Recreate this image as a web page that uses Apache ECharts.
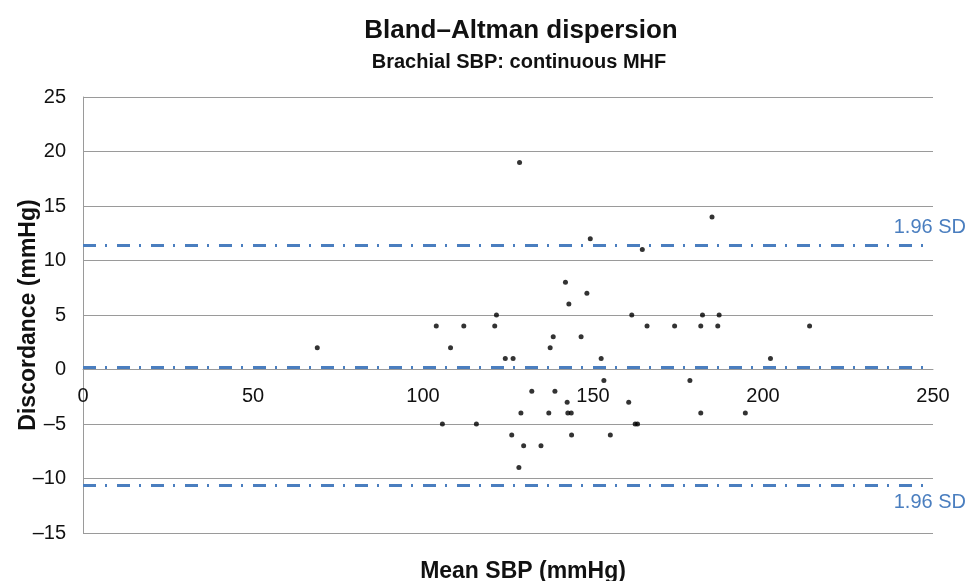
<!DOCTYPE html>
<html>
<head>
<meta charset="utf-8">
<script src="https://cdn.jsdelivr.net/npm/echarts@6/dist/echarts.min.js"></script>
<style>
  html, body { margin: 0; padding: 0; background: #fff; }
  #chart { width: 968px; height: 581px; }
</style>
</head>
<body>
<div id="chart"></div>
<script>
// readings
const meanSbp = [128.4, 185.0, 149.2, 164.5, 141.9, 148.2, 142.9, 121.6, 161.4, 182.2, 187.1,
  68.9, 103.9, 108.1, 112.0, 121.1, 124.2, 126.5, 105.7, 115.7, 126.1, 128.2, 128.8,
  165.9, 174.0, 181.7, 186.7, 213.7, 138.3, 146.5, 137.4, 152.4, 202.2, 153.2, 178.5,
  132.0, 138.8, 142.4, 160.5, 137.0, 142.6, 143.6, 181.7, 194.8, 162.4, 163.1, 143.7,
  155.1, 129.6, 134.7]
const discordance = [19, 14, 12, 11, 8, 7, 6, 5, 5, 5, 5,
  2, 4, 2, 4, 4, 1, 1, -5, -5, -6, -9, -4,
  4, 4, 4, 4, 4, 3, 3, 2, 1, 1, -1, -1,
  -2, -2, -3, -3, -4, -4, -4, -4, -4, -5, -5, -6,
  -6, -7, -7]

const meanDiff = 0.2
const upperLoa = 11.4
const lowerLoa = -10.6
const loaLabel = '1.96 SD'

const FONT = '"Liberation Sans", Arial, sans-serif'
const LOA_BLUE = '#4a7ebf'
const GRID_GREY = '#9a9a9a'

const chart = echarts.init(document.getElementById('chart'))

const dashLine = {
  color: LOA_BLUE,
  width: 3,
  type: [13, 9, 2, 10],
}

chart.setOption({
  animation: false,
  title: [
    {
      text: 'Bland–Altman dispersion',
      left: 516, top: 13, textAlign: 'center',
      textStyle: { fontFamily: FONT, fontSize: 26, fontWeight: 'bold', color: '#111' },
    },
    {
      text: 'Brachial SBP: continuous MHF',
      left: 514, top: 47, textAlign: 'center',
      textStyle: { fontFamily: FONT, fontSize: 20, fontWeight: 'bold', color: '#111' },
    },
    {
      text: 'Mean SBP (mmHg)',
      left: 518, top: 555, textAlign: 'center',
      textStyle: { fontFamily: FONT, fontSize: 23, fontWeight: 'bold', color: '#111' },
    },
  ],
  grid: { left: 83, right: 35, top: 97, bottom: 48, containLabel: false, outerBoundsMode: 'none' },
  xAxis: {
    type: 'value',
    min: 0, max: 250, interval: 50,
    // sit the axis on the zero line, as in the reference
    offset: -164,
    axisLine: { show: true, onZero: false, lineStyle: { color: GRID_GREY, width: 1 } },
    axisTick: { show: false },
    splitLine: { show: false },
    axisLabel: { margin: 17, fontFamily: FONT, fontSize: 20, color: '#111' },
  },
  yAxis: {
    type: 'value',
    min: -15, max: 25, interval: 5,
    name: 'Discordance (mmHg)',
    nameLocation: 'middle',
    nameGap: 43,
    nameMoveOverlap: false,
    nameTextStyle: { fontFamily: FONT, fontSize: 23, fontWeight: 'bold', color: '#111' },
    axisLine: { show: true, lineStyle: { color: GRID_GREY, width: 1 } },
    axisTick: { show: false },
    splitLine: { show: true, lineStyle: { color: GRID_GREY, width: 1.2 } },
    axisLabel: {
      margin: 17, fontFamily: FONT, fontSize: 20, color: '#111',
      formatter: v => String(v).replace('-', '–'),
    },
  },
  series: [
    {
      type: 'scatter',
      data: meanSbp.map((x, i) => [x, discordance[i]]),
      symbol: 'circle',
      symbolSize: 5,
      itemStyle: { color: '#000' },
      markLine: {
        silent: true,
        symbol: 'none',
        lineStyle: dashLine,
        label: {
          fontFamily: FONT, fontSize: 20, color: LOA_BLUE,
        },
        data: [
          { yAxis: upperLoa, label: { show: true, position: 'insideEndTop', distance: [-33, 8], formatter: loaLabel } },
          { yAxis: meanDiff, label: { show: false } },
          { yAxis: lowerLoa, label: { show: true, position: 'insideEndBottom', distance: [-33, 7], formatter: loaLabel } },
        ],
      },
    },
  ],
})
</script>
</body>
</html>
